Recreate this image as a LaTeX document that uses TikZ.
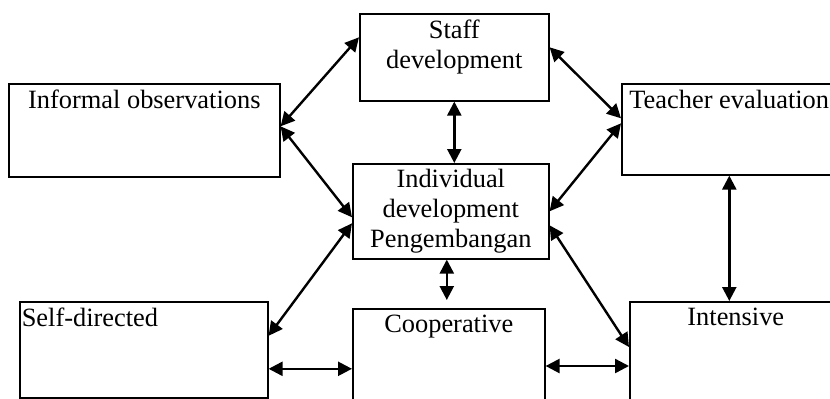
\documentclass[tikz,border=0pt]{standalone}
\usepackage{fontspec}
\setmainfont{Liberation Serif}
\usetikzlibrary{positioning}
\usetikzlibrary{arrows.meta}
\tikzset{
  every node/.style = {font = \fontsize{13.2}{15}\selectfont}
}
\tikzset{
    >={Triangle[length=7pt,width=7pt]}
}
\tikzset{
  box/.style  = {draw, line width=0.8pt, inner sep=0pt, anchor=north west},
  txt/.style  = {inner sep=0pt, align=center},
  link/.style = {<->, line width=1.2pt}
}

\begin{document}
\begin{tikzpicture}[x=0.5pt,y=-0.5pt]
\clip (0,0) rectangle (830,398);

% The boxes, placed by their top left corners
\node[box, minimum width=94.5pt, minimum height=43.5pt] (staff) at (359,13) {};
\node[box, minimum width=135.5pt, minimum height=46.5pt] (informal) at (8,83) {};
\node[box, minimum width=98pt, minimum height=47.5pt] (indiv) at (352,163) {};
\node[box, minimum width=114.5pt, minimum height=45.5pt] (teacher) at (621,83) {};
\node[box, minimum width=124pt, minimum height=48pt] (self) at (19,301) {};
\node[box, minimum width=96pt, minimum height=56pt] (coop) at (352,308) {};
\node[box, minimum width=106pt, minimum height=59.5pt] (intensive) at (629,301) {};

% Texts at the top of the boxes
\node[txt, below=3.3pt of staff.north] (stafft) {Staff\\development};
\node[txt, below=3.3pt of informal.north] (informalt) {Informal observations};
\node[txt, below=3pt of indiv.north] (indivt) {Individual\\development\\Pengembangan};
\node[txt, below right=3.3pt and 4pt of teacher.north west] (teachert) {Teacher evaluation};
\node[txt, below right=3.3pt and 1.2pt of self.north west] (selft) {Self-directed};
\node[txt, below=3.3pt of coop.north] (coopt) {Cooperative};
\node[txt, below=3.3pt of intensive.north] (intensivet) {Intensive};

% Links, left side
\draw[link] ([yshift=2pt]informal.east) -- ([yshift=10pt]staff.west);
\draw[link] ([yshift=2pt]informal.east) -- ([yshift=-3pt]indiv.west);
\draw[link] ([yshift=7pt]self.east) -- ([yshift=-6pt]indiv.west);
\coordinate (sc) at ([yshift=-9.5pt]self.east);
\draw[link] (sc) -- (sc -| coop.west);

% Links, middle
\draw[link] (staff.south) -- (staff.south |- indiv.north);
\coordinate (ic) at ([xshift=-2pt]indiv.south);
\draw[link, shorten >=4pt] (ic) -- (ic |- coop.north);

% Links, right side
\draw[link] ([yshift=5pt]staff.east) -- ([yshift=5.5pt]teacher.west);
\draw[link] (indiv.east) -- ([yshift=3pt]teacher.west);
\draw[link] ([yshift=-7pt]indiv.east) -- ([yshift=-23pt]intensive.north west);
\coordinate (ci) at ([yshift=-29pt]coop.north east);
\draw[link] (ci) -- (ci -| intensive.west);
\coordinate (ti) at ([xshift=-3.5pt]teacher.south);
\draw[link] (ti) -- (ti |- intensive.north);
\end{tikzpicture}
\end{document}
